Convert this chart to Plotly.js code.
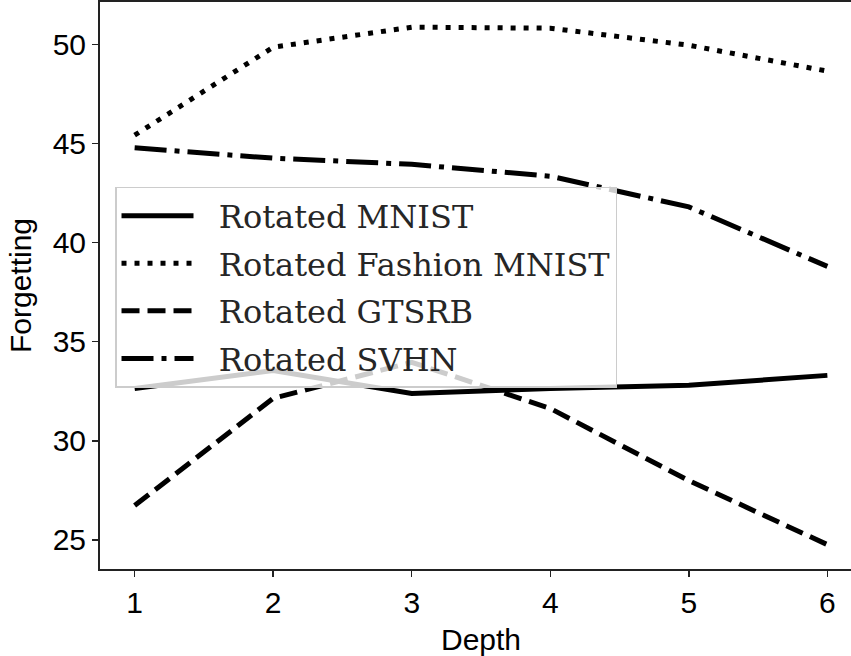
<!DOCTYPE html>
<html><head><meta charset="utf-8">
<script src="https://cdn.plot.ly/plotly-3.0.1.min.js"></script>
<style>html,body{margin:0;padding:0;overflow:hidden;background:#fff;width:851px;height:656px}#c{width:870px;height:656px}</style>
</head><body><div id="c"></div>
<script>
const depth = [1, 2, 3, 4, 5, 6];
const rotMNIST = [32.64, 33.55, 32.39, 32.64, 32.8, 33.3];
const rotFashion = [45.42, 49.86, 50.87, 50.82, 49.96, 48.65];
const rotGTSRB = [26.73, 32.14, 33.96, 31.63, 27.99, 24.76];
const rotSVHN = [44.78, 44.26, 43.95, 43.35, 41.8, 38.8];
const seriesNames = ['Rotated MNIST', 'Rotated Fashion MNIST', 'Rotated GTSRB', 'Rotated SVHN'];

const dashes = ['solid', '5px,8px', '18px,8px', '32px,8px,5px,8px'];
const vals = [rotMNIST, rotFashion, rotGTSRB, rotSVHN];
const traces = vals.map((v, i) => ({
  x: depth, y: v, name: '\u00a0\u00a0' + seriesNames[i], type: 'scatter', mode: 'lines',
  legendgroup: 'g' + i,
  line: {color: '#000', width: 5, dash: dashes[i]}
}));

const layout = {
  width: 870, height: 656,
  margin: {l: 100, r: 8, t: 2, b: 87},
  paper_bgcolor: '#fff', plot_bgcolor: '#fff',
  font: {family: 'Liberation Sans, Arial, sans-serif', color: '#000'},
  xaxis: {
    range: [0.75, 6.25], tickvals: depth, ticktext: depth.map(String),
    showgrid: false, zeroline: false, showline: true, mirror: true, linecolor: '#222', linewidth: 2,
    ticks: 'outside', ticklen: 6, tickwidth: 1.5, tickcolor: '#222',
    tickfont: {size: 30, family: 'Liberation Sans, Arial, sans-serif'},
    title: {text: 'Depth', font: {size: 30}, standoff: 12}
  },
  yaxis: {
    range: [23.53, 52.14], tickvals: [25, 30, 35, 40, 45, 50],
    showgrid: false, zeroline: false, showline: true, mirror: true, linecolor: '#222', linewidth: 2,
    ticks: 'outside', ticklen: 6, tickwidth: 1.5, tickcolor: '#222',
    tickfont: {size: 30, family: 'Liberation Sans, Arial, sans-serif'},
    title: {text: 'Forgetting', font: {size: 30}, standoff: 12}
  },
  showlegend: true,
  legend: {
    x: 0.0197, y: 0.674, xanchor: 'left', yanchor: 'top',
    bgcolor: 'rgba(255,255,255,0.8)', bordercolor: '#cccccc', borderwidth: 1.5,
    font: {family: 'DejaVu Serif, serif', size: 32, color: '#262626'},
    itemwidth: 72, tracegroupgap: 3
  }
};
Plotly.newPlot('c', traces, layout, {staticPlot: true});
</script></body></html>
